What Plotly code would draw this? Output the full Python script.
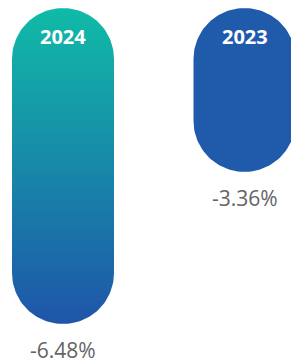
import numpy as np
import plotly.graph_objects as go

years = ["2024", "2023"]
values = [-6.48, -3.36]
value_labels = ["-6.48%", "-3.36%"]

W, H = 291, 363
top_px = 8
px_per_unit = 316 / 6.48
x_centers_px = [63, 244.5]
cat_px = x_centers_px[1] - x_centers_px[0]
radius_px = 51

y_range = [-(H - top_px) / px_per_unit, top_px / px_per_unit]
x_range = [-x_centers_px[0] / cat_px, (W - x_centers_px[0]) / cat_px]
rx = radius_px / cat_px
ry = radius_px / px_per_unit


def pill(cx, v):
    t1 = np.linspace(0, np.pi, 60)
    t2 = np.linspace(np.pi, 2 * np.pi, 60)
    xs = np.concatenate([cx + rx * np.cos(t1), cx + rx * np.cos(t2), [cx + rx]])
    ys = np.concatenate([-ry + ry * np.sin(t1), v + ry + ry * np.sin(t2), [-ry]])
    return xs, ys


fig = go.Figure()
for i, (yr, v) in enumerate(zip(years, values)):
    xs, ys = pill(i, v)
    if i == 0:
        fig.add_trace(go.Scatter(
            x=xs, y=ys, mode="lines", fill="toself", line=dict(width=0),
            fillgradient=dict(type="vertical",
                              colorscale=[[0, "#1F55A9"], [1, "#10BBA7"]]),
            hoverinfo="skip", showlegend=False))
    else:
        fig.add_trace(go.Scatter(
            x=xs, y=ys, mode="lines", fill="toself", line=dict(width=0),
            fillcolor="#1F5BAA", hoverinfo="skip", showlegend=False))
    fig.add_annotation(x=i, y=0, text=f"<b>{yr}</b>", showarrow=False,
                       yanchor="top", yshift=-13,
                       font=dict(family="Open Sans", size=20, color="white"))
    fig.add_annotation(x=i, y=v, text=value_labels[i], showarrow=False,
                       yanchor="top", yshift=-10,
                       font=dict(family="Open Sans", size=21, color="#646464"))

fig.update_layout(
    width=W, height=H, margin=dict(l=0, r=0, t=0, b=0),
    paper_bgcolor="white", plot_bgcolor="white",
    xaxis=dict(range=x_range, visible=False, fixedrange=True),
    yaxis=dict(range=y_range, visible=False, fixedrange=True),
)
fig.write_html(
    "out.html",
    config={"displayModeBar": False},
    post_script="document.body.style.margin='0';document.body.style.overflow='hidden';",
)
